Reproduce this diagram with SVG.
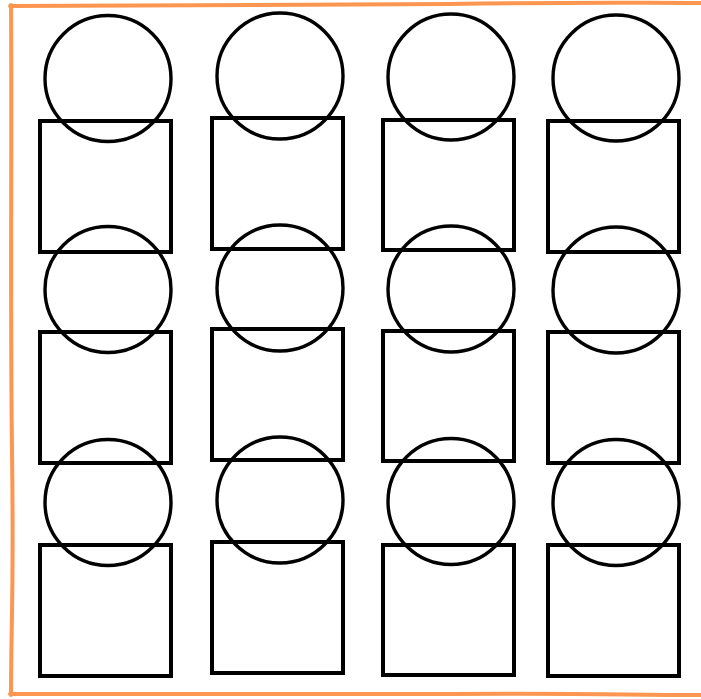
<svg xmlns="http://www.w3.org/2000/svg" width="701" height="699" viewBox="0 0 701 699">
<style>
.c{fill:none;stroke:#000;stroke-width:3.4}
.s{fill:none;stroke:#000;stroke-width:4}
.b{fill:none;stroke:#fd9650;stroke-width:4;stroke-linecap:round}
</style>
<rect width="701" height="699" fill="#fff"/>
<g id="frame">
<path class="b" d="M10,6 C150,4 300,6 450,4 S620,3 701,3"/>
<path class="b" d="M11,5 C12,150 10,300 12,450 S11,620 11,695"/>
<path class="b" d="M10,694 C150,693 300,695 450,694 S620,695 701,695"/>
</g>
<g id="shapes">
<g id="c11"><circle class="c" cx="108" cy="78.5" r="63"/></g>
<g id="s11"><rect class="s" x="40" y="121" width="131" height="131"/></g>
<g id="c12"><circle class="c" cx="280" cy="76" r="63"/></g>
<g id="s12"><rect class="s" x="212" y="118" width="131" height="131"/></g>
<g id="c13"><circle class="c" cx="451" cy="77" r="63"/></g>
<g id="s13"><rect class="s" x="383" y="120" width="131" height="130"/></g>
<g id="c14"><circle class="c" cx="616" cy="78" r="63"/></g>
<g id="s14"><rect class="s" x="548" y="121" width="131" height="131"/></g>

<g id="c21"><circle class="c" cx="108" cy="289.5" r="63"/></g>
<g id="s21"><rect class="s" x="40" y="332" width="131" height="131"/></g>
<g id="c22"><circle class="c" cx="280" cy="288" r="63"/></g>
<g id="s22"><rect class="s" x="212" y="329" width="131" height="131"/></g>
<g id="c23"><circle class="c" cx="451" cy="289" r="63"/></g>
<g id="s23"><rect class="s" x="383" y="331" width="131" height="130"/></g>
<g id="c24"><circle class="c" cx="616" cy="290" r="63"/></g>
<g id="s24"><rect class="s" x="548" y="332" width="131" height="131"/></g>

<g id="c31"><circle class="c" cx="108" cy="502.5" r="63"/></g>
<g id="s31"><rect class="s" x="40" y="545" width="131" height="131"/></g>
<g id="c32"><circle class="c" cx="280" cy="500" r="63"/></g>
<g id="s32"><rect class="s" x="212" y="542" width="131" height="131"/></g>
<g id="c33"><circle class="c" cx="451" cy="501.5" r="63"/></g>
<g id="s33"><rect class="s" x="383" y="545" width="131" height="130"/></g>
<g id="c34"><circle class="c" cx="616" cy="502.5" r="63"/></g>
<g id="s34"><rect class="s" x="548" y="545" width="131" height="131"/></g>
</g>
<g id="connectors"/>
</svg>
